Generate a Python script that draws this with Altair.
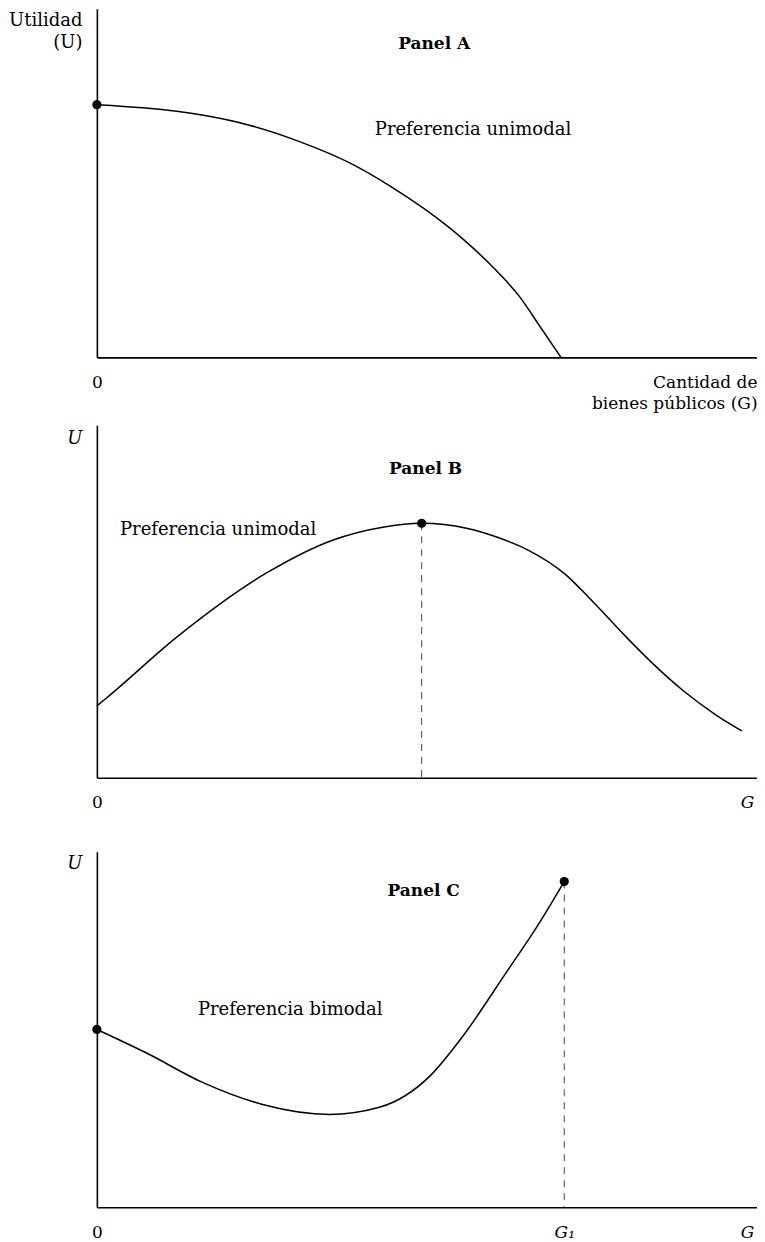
import altair as alt
import pandas as pd

FONT = "DejaVu Serif"

# ---------------- data (arbitrary units 0-100) ----------------
# Panel A: single-peaked preference, peak at G = 0
a_g = [0, 7.0, 16.6, 23.1, 30.7, 38.3, 44.3, 53.4, 60.5, 64.0, 67.0, 70.3]
a_u = [72.5, 71.6, 69.3, 66.6, 61.9, 55.8, 49.3, 37.2, 24.9, 17.5, 9.2, 0.0]
a_dot_g = [0]
a_dot_u = [72.5]

# Panel B: single-peaked preference, interior peak
b_g = [0, 1.5, 12.1, 25.7, 35.7, 43.3, 49.2, 56.0, 61.0, 65.1, 71.1, 74.6, 80.2, 84.1, 88.7, 93.8, 97.7]
b_u = [20.4, 22.7, 39.9, 58.1, 67.4, 71.1, 72.2, 70.8, 68.0, 64.8, 57.5, 51.0, 39.9, 32.6, 24.9, 17.8, 13.3]
b_dot_g = [49.2]
b_dot_u = [72.2]

# Panel C: double-peaked preference
c_g = [0, 7.6, 16.0, 25.1, 35.2, 42.8, 50.4, 55.4, 62.0, 66.6, 70.8]
c_u = [50.0, 43.3, 35.1, 28.9, 26.1, 28.1, 36.8, 48.0, 66.0, 78.7, 91.6]
c_dot_g = [0, 70.8]
c_dot_u = [50.0, 91.6]

# Tick labels on the horizontal axes
a_ticks, a_tick_labels = [0], ["0"]
b_ticks, b_tick_labels = [0, 98.5], ["0", "G"]
c_ticks, c_tick_labels = [0, 70.8, 98.5], ["0", "G\u2081", "G"]

# Panel titles and notes
a_title, a_title_g, a_title_u = "Panel A", 51.1, 88.5
b_title, b_title_g, b_title_u = "Panel B", 49.8, 86.1
c_title, c_title_g, c_title_u = "Panel C", 49.5, 87.4
a_note, a_note_g, a_note_u = "Preferencia unimodal", 42.1, 63.9
b_note, b_note_g, b_note_u = "Preferencia unimodal", 3.5, 68.8
c_note, c_note_g, c_note_u = "Preferencia bimodal", 15.3, 54.2

W = 661


def label_expr(ticks, labels):
    expr = "''"
    for t, l in zip(reversed(ticks), reversed(labels)):
        expr = f"abs(datum.value - {t}) < 0.01 ? '{l}' : ({expr})"
    return expr


def panel(curve_g, curve_u, dot_g, dot_u, drop, ticks, tick_labels,
          title, title_g, title_u, note, note_g, note_u,
          y_title, y_title_style, y_title_y, x_title, height):
    xs = alt.Scale(domain=[0, 100], nice=False, zero=False)
    ys = alt.Scale(domain=[0, 100], nice=False, zero=False)
    x_axis_kwargs = dict(
        values=ticks, labelExpr=label_expr(ticks, tick_labels), ticks=False, grid=False,
        domainColor="black", domainWidth=1.6, labelFont=FONT, labelFontSize=17,
        labelColor="black", labelPadding=17, labelFlush=False, labelOverlap=False,
        labelFontStyle={"condition": {"test": "datum.value == 0", "value": "normal"}, "value": "italic"},
    )
    if x_title:
        x_axis_kwargs.update(title=x_title, titleX=W, titleY=30, titleAlign="right",
                             titleBaseline="alphabetic", titleFont=FONT, titleFontSize=17,
                             titleFontWeight="normal", titleColor="black", titleLineHeight=21)
    else:
        x_axis_kwargs.update(title=None)
    x_axis = alt.Axis(**x_axis_kwargs)
    y_axis = alt.Axis(values=[0], labels=False, ticks=False, grid=False, domainColor="black",
                      domainWidth=1.6, title=y_title, titleAngle=0, titleAlign="right",
                      titleBaseline="alphabetic", titleX=-15, titleY=y_title_y, titleFont=FONT,
                      titleFontSize=18, titleFontWeight="normal", titleFontStyle=y_title_style,
                      titleColor="black", titleLineHeight=22)
    X = alt.X("g:Q", scale=xs, axis=x_axis)
    Y = alt.Y("u:Q", scale=ys, axis=y_axis)

    curve = alt.Chart(pd.DataFrame({"g": curve_g, "u": curve_u})).mark_line(
        color="black", strokeWidth=1.5, interpolate="monotone").encode(x=X, y=Y)
    dots = alt.Chart(pd.DataFrame({"g": dot_g, "u": dot_u})).mark_circle(
        color="black", opacity=1, size=85).encode(x=X, y=Y)
    layers = [curve, dots]
    if drop:
        dd = pd.DataFrame({"g": [drop[0]], "u": [drop[1]], "u0": [0]})
        rule = alt.Chart(dd).mark_rule(color="#444", strokeWidth=1, strokeDash=[7, 6]).encode(
            x=X, y=Y, y2="u0:Q")
        layers.insert(0, rule)
    tt = alt.Chart(pd.DataFrame({"g": [title_g], "u": [title_u], "t": [title]})).mark_text(
        font=FONT, fontSize=17, fontWeight="bold", align="center", baseline="alphabetic",
        color="black").encode(x=X, y=Y, text="t:N")
    nt = alt.Chart(pd.DataFrame({"g": [note_g], "u": [note_u], "t": [note]})).mark_text(
        font=FONT, fontSize=18, align="left", baseline="alphabetic", color="black").encode(
        x=X, y=Y, text="t:N")
    layers += [tt, nt]
    return alt.layer(*layers).properties(width=W, height=height)


pa = panel(a_g, a_u, a_dot_g, a_dot_u, None, a_ticks, a_tick_labels,
           a_title, a_title_g, a_title_u, a_note, a_note_g, a_note_u,
           ["Utilidad", "(U)"], "normal", 17, ["Cantidad de", "bienes públicos (G)"], 349)
pb = panel(b_g, b_u, b_dot_g, b_dot_u, (b_dot_g[0], b_dot_u[0]), b_ticks, b_tick_labels,
           b_title, b_title_g, b_title_u, b_note, b_note_g, b_note_u,
           "U", "italic", 18, None, 353)
pc = panel(c_g, c_u, c_dot_g, c_dot_u, (c_dot_g[1], c_dot_u[1]), c_ticks, c_tick_labels,
           c_title, c_title_g, c_title_u, c_note, c_note_g, c_note_u,
           "U", "italic", 17, None, 356)

chart = alt.vconcat(
    pa,
    alt.vconcat(pb, pc, spacing=74, bounds="flush"),
    spacing=68, bounds="flush",
).properties(padding={"left": 0, "top": 0, "right": 0, "bottom": 0}).configure(
    background="white", view=alt.ViewConfig(stroke=None))

chart.save("out.html", embed_options={"renderer": "svg", "actions": False})
